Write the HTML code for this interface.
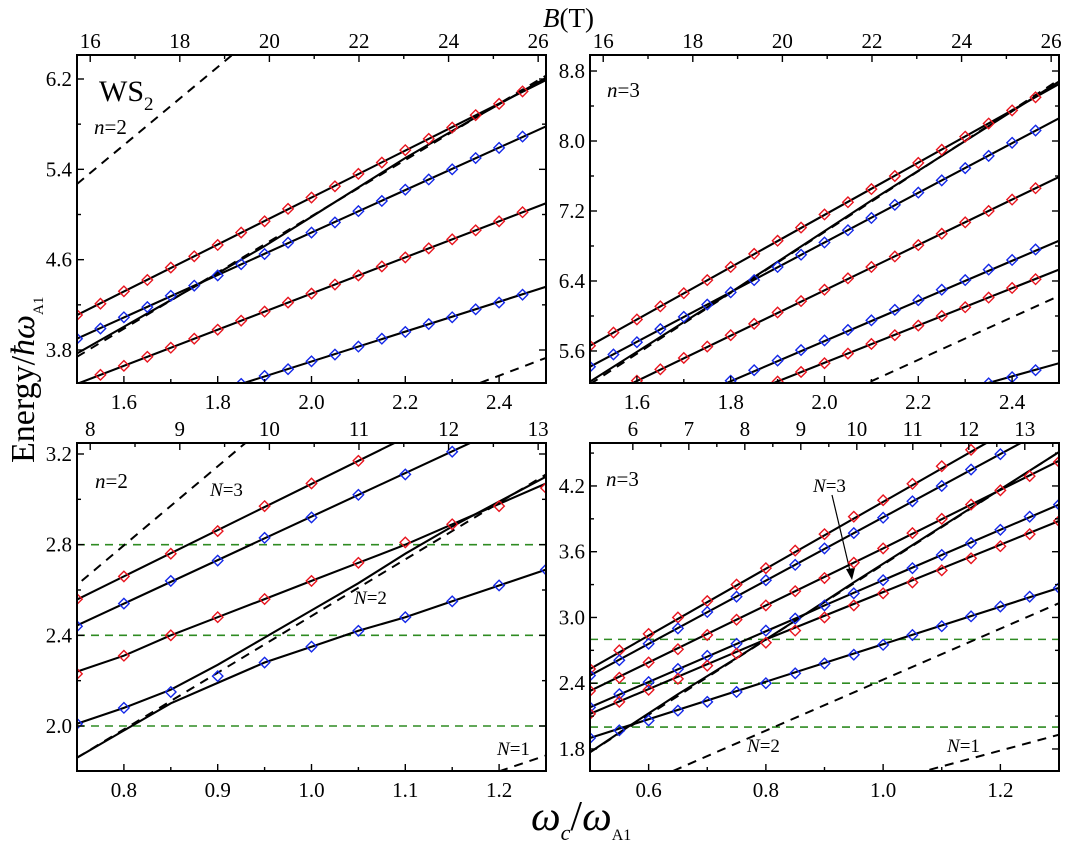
<!DOCTYPE html>
<html><head><meta charset="utf-8">
<style>
html,body{margin:0;padding:0;background:#fff;}
svg{display:block;font-family:"Liberation Serif",serif;}
</style></head>
<body>
<svg id="chart" width="1065" height="845" viewBox="0 0 1065 845" xmlns="http://www.w3.org/2000/svg">
<defs>
<clipPath id="clip-tl"><rect x="77" y="55" width="469" height="328"/></clipPath>
<clipPath id="clip-tr"><rect x="590" y="55" width="469" height="328"/></clipPath>
<clipPath id="clip-bl"><rect x="77" y="443" width="469" height="328"/></clipPath>
<clipPath id="clip-br"><rect x="590" y="443" width="469" height="328"/></clipPath>
</defs>
<text x="543" y="27" font-size="27"><tspan font-style="italic">B</tspan>(T)</text>
<text transform="translate(34,463) rotate(-90)" font-size="34">Energy/<tspan font-style="italic">ħω</tspan><tspan font-size="15" dy="9">A1</tspan></text>
<text x="531" y="830" font-size="42" font-style="italic">ω<tspan font-size="22" dy="10">c</tspan><tspan dy="-10" font-style="normal">/</tspan>ω<tspan font-size="16" dy="10" font-style="normal">A1</tspan></text>
<text x="99" y="101" font-size="30">WS<tspan font-size="19" dy="9">2</tspan></text>
<text x="94" y="134" font-size="21"><tspan font-style="italic">n</tspan>=2</text>
<text x="607" y="97" font-size="21"><tspan font-style="italic">n</tspan>=3</text>
<text x="95" y="488" font-size="21"><tspan font-style="italic">n</tspan>=2</text>
<text x="606" y="486" font-size="21"><tspan font-style="italic">n</tspan>=3</text>
<text x="210" y="496" font-size="19"><tspan font-style="italic">N</tspan>=3</text>
<text x="354" y="604" font-size="19"><tspan font-style="italic">N</tspan>=2</text>
<text x="497" y="755" font-size="19"><tspan font-style="italic">N</tspan>=1</text>
<text x="813" y="492" font-size="19"><tspan font-style="italic">N</tspan>=3</text>
<text x="747" y="752" font-size="19"><tspan font-style="italic">N</tspan>=2</text>
<text x="947" y="752" font-size="19"><tspan font-style="italic">N</tspan>=1</text>
<line x1="832" y1="495" x2="851" y2="575" stroke="#000" stroke-width="1.2"/>
<path d="M852,580 L846,569 L855,568 Z" fill="#000"/>
</svg>
<script>
// ---------- data: top-left (n=2, B 16-26 T) ----------
const tlX = [1.50,1.55,1.60,1.65,1.70,1.75,1.80,1.85,1.90,1.95,2.00,2.05,2.10,2.15,2.20,2.25,2.30,2.35,2.40,2.45];
const tlRedA = [4.11,4.21,4.32,4.42,4.53,4.63,4.73,4.84,4.94,5.05,5.15,5.25,5.36,5.46,5.57,5.67,5.77,5.88,5.98,6.09];
const tlBlueB = [3.90,3.99,4.09,4.18,4.28,4.37,4.46,4.56,4.65,4.75,4.84,4.93,5.03,5.12,5.22,5.31,5.40,5.50,5.59,5.69];
const tlXD = [1.55,1.60,1.65,1.70,1.75,1.80,1.85,1.90,1.95,2.00,2.05,2.10,2.15,2.20,2.25,2.30,2.35,2.40,2.45];
const tlRedD = [3.58,3.66,3.74,3.82,3.90,3.98,4.06,4.14,4.22,4.30,4.38,4.46,4.54,4.62,4.70,4.78,4.86,4.94,5.02];
const tlXE = [1.85,1.90,1.95,2.00,2.05,2.10,2.15,2.20,2.25,2.30,2.35,2.40,2.45];
const tlBlueE = [3.50,3.57,3.63,3.70,3.76,3.83,3.90,3.96,4.03,4.09,4.16,4.22,4.29];
const tlLineAx = [1.5,2.5], tlLineAy = [4.11,6.19];
const tlLineBx = [1.5,2.5], tlLineBy = [3.90,5.78];
const tlLineCx = [1.5,1.75,1.9,2.0,2.2,2.35,2.5], tlLineCy = [3.77,4.36,4.72,4.98,5.50,5.86,6.21];
const tlLineDx = [1.5,2.5], tlLineDy = [3.50,5.10];
const tlLineEx = [1.85,2.5], tlLineEy = [3.50,4.36];
const tlDash1x = [1.5,1.83], tlDash1y = [5.27,6.41];
const tlDash2x = [1.5,2.5], tlDash2y = [3.74,6.23];
const tlDash3x = [2.36,2.5], tlDash3y = [3.51,3.73];
// ---------- data: top-right (n=3) ----------
const trX = [1.50,1.55,1.60,1.65,1.70,1.75,1.80,1.85,1.90,1.95,2.00,2.05,2.10,2.15,2.20,2.25,2.30,2.35,2.40,2.45];
const trRed1 = [5.66,5.81,5.96,6.11,6.26,6.41,6.56,6.71,6.86,7.01,7.16,7.30,7.45,7.60,7.75,7.90,8.05,8.20,8.35,8.50];
const trBlue2 = [5.42,5.56,5.70,5.85,5.99,6.13,6.27,6.41,6.56,6.70,6.84,6.98,7.12,7.27,7.41,7.55,7.69,7.83,7.98,8.12];
const trX4 = [1.60,1.65,1.70,1.75,1.80,1.85,1.90,1.95,2.00,2.05,2.10,2.15,2.20,2.25,2.30,2.35,2.40,2.45];
const trRed4 = [5.26,5.39,5.52,5.65,5.78,5.91,6.04,6.17,6.30,6.43,6.56,6.68,6.81,6.94,7.07,7.20,7.33,7.46];
const trX5 = [1.80,1.85,1.90,1.95,2.00,2.05,2.10,2.15,2.20,2.25,2.30,2.35,2.40,2.45];
const trBlue5 = [5.26,5.38,5.49,5.61,5.72,5.84,5.95,6.07,6.18,6.30,6.41,6.53,6.64,6.76];
const trX6 = [1.90,1.95,2.00,2.05,2.10,2.15,2.20,2.25,2.30,2.35,2.40,2.45];
const trRed6 = [5.25,5.36,5.46,5.57,5.68,5.78,5.89,6.00,6.10,6.21,6.32,6.42];
const trX7 = [2.35,2.40,2.45];
const trBlue7 = [5.23,5.30,5.38];
const trL1x = [1.5,2.5], trL1y = [5.66,8.65];
const trL2x = [1.5,2.5], trL2y = [5.42,8.26];
const trL3x = [1.5,1.8,2.1,2.3,2.5], trL3y = [5.25,6.27,7.32,8.00,8.68];
const trL4x = [1.59,2.5], trL4y = [5.23,7.59];
const trL5x = [1.79,2.5], trL5y = [5.23,6.86];
const trL6x = [1.89,2.5], trL6y = [5.23,6.53];
const trL7x = [2.34,2.5], trL7y = [5.22,5.46];
const trDash1x = [1.5,2.5], trDash1y = [5.22,8.70];
const trDash2x = [2.098,2.5], trDash2y = [5.25,6.23];
// ---------- data: bottom-left (n=2, low field) ----------
const blX = [0.75,0.80,0.85,0.90,0.95,1.00,1.05,1.10,1.15,1.20,1.25];
const blRed1 = [2.56,2.66,2.76,2.86,2.97,3.07,3.17];
const blBlue1 = [2.44,2.54,2.64,2.73,2.83,2.92,3.02,3.11,3.21];
const blRed2 = [2.23,2.31,2.40,2.48,2.56,2.64,2.72,2.81,2.89,2.97,3.05];
const blBlue2 = [2.01,2.08,2.15,2.22,2.28,2.35,2.42,2.48,2.55,2.62,2.69];
const blR1x = [0.75,1.25], blR1y = [2.558,3.578];
const blB1x = [0.75,1.25], blB1y = [2.444,3.404];
const blR2y = [2.24,2.31,2.40,2.48,2.56,2.64,2.72,2.80,2.89,2.98,3.07];
const blUy = [2.01,2.08,2.16,2.27,2.39,2.51,2.63,2.76,2.88,2.99,3.10];
const blLy = [1.86,1.98,2.10,2.19,2.28,2.35,2.42,2.48,2.55,2.62,2.69];
const blDash1x = [0.75,1.25], blDash1y = [1.86,3.11];
const blDash2x = [0.755,0.93], blDash2y = [2.64,3.25];
const blDash3x = [1.2,1.25], blDash3y = [1.80,1.87];
const blGreen = [2.0,2.4,2.8];
// ---------- data: bottom-right (n=3, low field) ----------
const brX = [0.50,0.55,0.60,0.65,0.70,0.75,0.80,0.85,0.90,0.95,1.00,1.05,1.10,1.15,1.20,1.25,1.30];
const brRed1 = [2.53,2.70,2.85,3.00,3.15,3.30,3.45,3.61,3.76,3.92,4.07,4.22,4.38,4.53];
const brBlue2 = [2.47,2.61,2.76,2.90,3.05,3.19,3.34,3.48,3.63,3.77,3.91,4.06,4.20,4.35,4.49];
const brRed3 = [2.33,2.45,2.59,2.71,2.84,2.98,3.11,3.24,3.36,3.50,3.63,3.77,3.90,4.03,4.16,4.29,4.42];
const brBlue4 = [2.18,2.30,2.41,2.53,2.65,2.76,2.88,2.99,3.11,3.22,3.34,3.45,3.57,3.68,3.80,3.92,4.03];
const brRed5 = [2.12,2.23,2.34,2.44,2.56,2.67,2.77,2.88,3.00,3.11,3.22,3.32,3.43,3.54,3.65,3.76,3.88];
const brBlue6 = [1.90,1.97,2.06,2.15,2.23,2.32,2.40,2.49,2.58,2.66,2.75,2.84,2.92,3.01,3.10,3.19,3.27];
const brL1x = [0.5,1.3], brL1y = [2.53,4.97];
const brL2x = [0.5,1.3], brL2y = [2.47,4.78];
const brL3x = [0.5,1.0,1.15,1.3], brL3y = [2.33,3.63,4.03,4.43];
const brL4x = [0.5,0.85,0.9,1.3], brL4y = [2.18,2.99,3.11,4.03];
const brL5x = [0.5,0.8,0.87,1.3], brL5y = [2.12,2.80,2.95,3.88];
const brL6x = [0.5,1.3], brL6y = [1.90,3.27];
const brSx = [0.5,0.57,0.65,0.75,0.85,0.95,1.05,1.15,1.3], brSy = [1.77,2.02,2.30,2.63,2.97,3.32,3.66,4.00,4.51];
const brDash1x = [0.5,1.3], brDash1y = [1.77,4.51];
const brDash2x = [0.642,1.3], brDash2y = [1.60,3.13];
const brDash3x = [1.079,1.3], brDash3y = [1.61,1.93];
const brGreen = [2.0,2.4,2.8];
// ---------- tick arrays ----------
const topXTicks = [1.6,1.8,2.0,2.2,2.4];
const topXMinor = [1.5,1.7,1.9,2.1,2.3,2.5];
const topXLabels = ["1.6","1.8","2.0","2.2","2.4"];
const topBTicks = [16,18,20,22,24,26];
const topBMinor = [17,19,21,23,25];
const tlYTicks = [3.8,4.6,5.4,6.2], tlYMinor = [4.2,5.0,5.8];
const tlYLabels = ["3.8","4.6","5.4","6.2"];
const trYTicks = [5.6,6.4,7.2,8.0,8.8], trYMinor = [6.0,6.8,7.6,8.4];
const trYLabels = ["5.6","6.4","7.2","8.0","8.8"];
const blXTicks = [0.8,0.9,1.0,1.1,1.2], blXMinor = [0.75,0.85,0.95,1.05,1.15,1.25];
const blXLabels = ["0.8","0.9","1.0","1.1","1.2"];
const blBTicks = [8,9,10,11,12,13], blBMinor = [8.5,9.5,10.5,11.5,12.5];
const blYTicks = [2.0,2.4,2.8,3.2], blYMinor = [1.8,2.2,2.6,3.0];
const blYLabels = ["2.0","2.4","2.8","3.2"];
const brXTicks = [0.6,0.8,1.0,1.2], brXMinor = [0.5,0.7,0.9,1.1,1.3];
const brXLabels = ["0.6","0.8","1.0","1.2"];
const brBTicks = [6,7,8,9,10,11,12,13], brBMinor = [6.5,7.5,8.5,9.5,10.5,11.5,12.5,13.5];
const brYTicks = [1.8,2.4,3.0,3.6,4.2], brYMinor = [2.1,2.7,3.3,3.9,4.5];
const brYLabels = ["1.8","2.4","3.0","3.6","4.2"];
const bFactor = 10.47;

const NS = 'http://www.w3.org/2000/svg';
const svg = document.getElementById('chart');
function mk(tag, parent) { const e = document.createElementNS(NS, tag); parent.appendChild(e); return e; }
function setA(e, o) { for (const k in o) e.setAttribute(k, o[k]); }

function makePanel(id, frame, xd, yd) {
  const [l, t, r, b] = frame;
  const sx = v => l + (v - xd[0]) / (xd[1] - xd[0]) * (r - l);
  const sy = v => b - (v - yd[0]) / (yd[1] - yd[0]) * (b - t);
  const g = mk('g', svg);
  
  
  const plot = mk('g', g);
  
  
  plot.setAttribute('clip-path', 'url(#clip-' + id + ')');
  return { id, l, t, r, b, sx, sy, g, plot };
}

function line(P, xs, ys, name, dashed) {
  const p = mk('polyline', P.plot);
  
  
  setA(p, { points: xs.map((x, i) => P.sx(x).toFixed(1) + ',' + P.sy(ys[i]).toFixed(1)).join(' '),
    fill: 'none', stroke: '#000', 'stroke-width': dashed ? 2 : 2.1 });
  if (dashed) p.setAttribute('stroke-dasharray', '9,7');
}
function greens(P, vals, name) {
  vals.forEach(v => {
    const p = mk('line', P.plot);
    
    
    setA(p, { x1: P.l, x2: P.r, y1: P.sy(v), y2: P.sy(v), stroke: '#2e8b22', 'stroke-width': 1.6, 'stroke-dasharray': '8,6' });
  });
}
function markers(P, xs, ys, color, name) {
  ys.forEach((y, i) => {
    const cx = P.sx(xs[i]), cy = P.sy(y), h = 5.2;
    const m = mk('path', P.plot);
    
    
    setA(m, { d: `M${cx},${cy - h} L${cx + h},${cy} L${cx},${cy + h} L${cx - h},${cy} Z`,
      fill: 'none', stroke: color, 'stroke-width': 1.4 });
  });
}
function axes(P, xT, xM, xL, bT, bM, yT, yM, yL) {
  const fr = mk('rect', P.g);
  
  
  setA(fr, { x: P.l, y: P.t, width: P.r - P.l, height: P.b - P.t, fill: 'none', stroke: '#000', 'stroke-width': 2 });
  const tk = (x1, y1, x2, y2) => { const e = mk('line', P.g);   setA(e, { x1, y1, x2, y2, stroke: '#000', 'stroke-width': 1.4 }); };
  xT.forEach((v, i) => {
    const x = P.sx(v); tk(x, P.b, x, P.b - 7);
    const t = mk('text', P.g);
    
    
    setA(t, { x: x, y: P.b + 26, 'font-size': 21, 'text-anchor': 'middle' }); t.textContent = xL[i];
  });
  xM.forEach(v => { const x = P.sx(v); tk(x, P.b, x, P.b - 4); });
  bT.forEach(v => {
    const x = P.sx(v / bFactor); tk(x, P.t, x, P.t + 7);
    const t = mk('text', P.g);
    
    
    setA(t, { x: x, y: P.t - 7, 'font-size': 21, 'text-anchor': 'middle' }); t.textContent = String(v);
  });
  bM.forEach(v => { const x = P.sx(v / bFactor); if (x < P.r) tk(x, P.t, x, P.t + 4); });
  yT.forEach((v, i) => {
    const y = P.sy(v); tk(P.l, y, P.l + 7, y); tk(P.r, y, P.r - 7, y);
    const t = mk('text', P.g);
    
    
    setA(t, { x: P.l - 5, y: y + 7, 'font-size': 21, 'text-anchor': 'end' }); t.textContent = yL[i];
  });
  yM.forEach(v => { const y = P.sy(v); if (y > P.t && y < P.b) { tk(P.l, y, P.l + 4, y); tk(P.r, y, P.r - 4, y); } });
}

// top-left
const TL = makePanel('tl', [77, 55, 546, 383], [1.5, 2.5], [3.5078, 6.4125]);
line(TL, tlDash1x, tlDash1y, 'tl-bare-level-dashed', true);
line(TL, tlDash2x, tlDash2y, 'tl-bare-level-dashed', true);
line(TL, tlDash3x, tlDash3y, 'tl-bare-level-dashed', true);
line(TL, tlLineAx, tlLineAy, 'tl-branch-line', false);
line(TL, tlLineBx, tlLineBy, 'tl-branch-line', false);
line(TL, tlLineCx, tlLineCy, 'tl-branch-line', false);
line(TL, tlLineDx, tlLineDy, 'tl-branch-line', false);
line(TL, tlLineEx, tlLineEy, 'tl-branch-line', false);
markers(TL, tlX, tlRedA, '#e8141e', 'tl-red-marker');
markers(TL, tlX, tlBlueB, '#1428e8', 'tl-blue-marker');
markers(TL, tlXD, tlRedD, '#e8141e', 'tl-red-marker');
markers(TL, tlXE, tlBlueE, '#1428e8', 'tl-blue-marker');
axes(TL, topXTicks, topXMinor, topXLabels, topBTicks, topBMinor, tlYTicks, tlYMinor, tlYLabels);

// top-right
const TR = makePanel('tr', [590, 55, 1059, 383], [1.5, 2.5], [5.234, 8.983]);
line(TR, trDash1x, trDash1y, 'tr-bare-level-dashed', true);
line(TR, trDash2x, trDash2y, 'tr-bare-level-dashed', true);
[[trL1x,trL1y],[trL2x,trL2y],[trL3x,trL3y],[trL4x,trL4y],[trL5x,trL5y],[trL6x,trL6y],[trL7x,trL7y]].forEach(s => line(TR, s[0], s[1], 'tr-branch-line', false));
markers(TR, trX, trRed1, '#e8141e', 'tr-red-marker');
markers(TR, trX, trBlue2, '#1428e8', 'tr-blue-marker');
markers(TR, trX4, trRed4, '#e8141e', 'tr-red-marker');
markers(TR, trX5, trBlue5, '#1428e8', 'tr-blue-marker');
markers(TR, trX6, trRed6, '#e8141e', 'tr-red-marker');
markers(TR, trX7, trBlue7, '#1428e8', 'tr-blue-marker');
axes(TR, topXTicks, topXMinor, topXLabels, topBTicks, topBMinor, trYTicks, trYMinor, trYLabels);

// bottom-left
const BL = makePanel('bl', [77, 443, 546, 771], [0.75, 1.25], [1.8015, 3.2485]);
greens(BL, blGreen, 'bl-threshold-line');
line(BL, blDash1x, blDash1y, 'bl-bare-level-dashed', true);
line(BL, blDash2x, blDash2y, 'bl-bare-level-dashed', true);
line(BL, blDash3x, blDash3y, 'bl-bare-level-dashed', true);
line(BL, blR1x, blR1y, 'bl-branch-line', false);
line(BL, blB1x, blB1y, 'bl-branch-line', false);
line(BL, blX, blR2y, 'bl-branch-line', false);
line(BL, blX, blUy, 'bl-branch-line', false);
line(BL, blX, blLy, 'bl-branch-line', false);
markers(BL, blX, blRed1, '#e8141e', 'bl-red-marker');
markers(BL, blX, blBlue1, '#1428e8', 'bl-blue-marker');
markers(BL, blX, blRed2, '#e8141e', 'bl-red-marker');
markers(BL, blX, blBlue2, '#1428e8', 'bl-blue-marker');
axes(BL, blXTicks, blXMinor, blXLabels, blBTicks, blBMinor, blYTicks, blYMinor, blYLabels);

// bottom-right
const BR = makePanel('br', [590, 443, 1059, 771], [0.5, 1.3], [1.599, 4.592]);
greens(BR, brGreen, 'br-threshold-line');
line(BR, brDash1x, brDash1y, 'br-bare-level-dashed', true);
line(BR, brDash2x, brDash2y, 'br-bare-level-dashed', true);
line(BR, brDash3x, brDash3y, 'br-bare-level-dashed', true);
[[brL1x,brL1y],[brL2x,brL2y],[brL3x,brL3y],[brL4x,brL4y],[brL5x,brL5y],[brL6x,brL6y],[brSx,brSy]].forEach(s => line(BR, s[0], s[1], 'br-branch-line', false));
markers(BR, brX, brRed1, '#e8141e', 'br-red-marker');
markers(BR, brX, brBlue2, '#1428e8', 'br-blue-marker');
markers(BR, brX, brRed3, '#e8141e', 'br-red-marker');
markers(BR, brX, brBlue4, '#1428e8', 'br-blue-marker');
markers(BR, brX, brRed5, '#e8141e', 'br-red-marker');
markers(BR, brX, brBlue6, '#1428e8', 'br-blue-marker');
axes(BR, brXTicks, brXMinor, brXLabels, brBTicks, brBMinor, brYTicks, brYMinor, brYLabels);
</script>
</body></html>
